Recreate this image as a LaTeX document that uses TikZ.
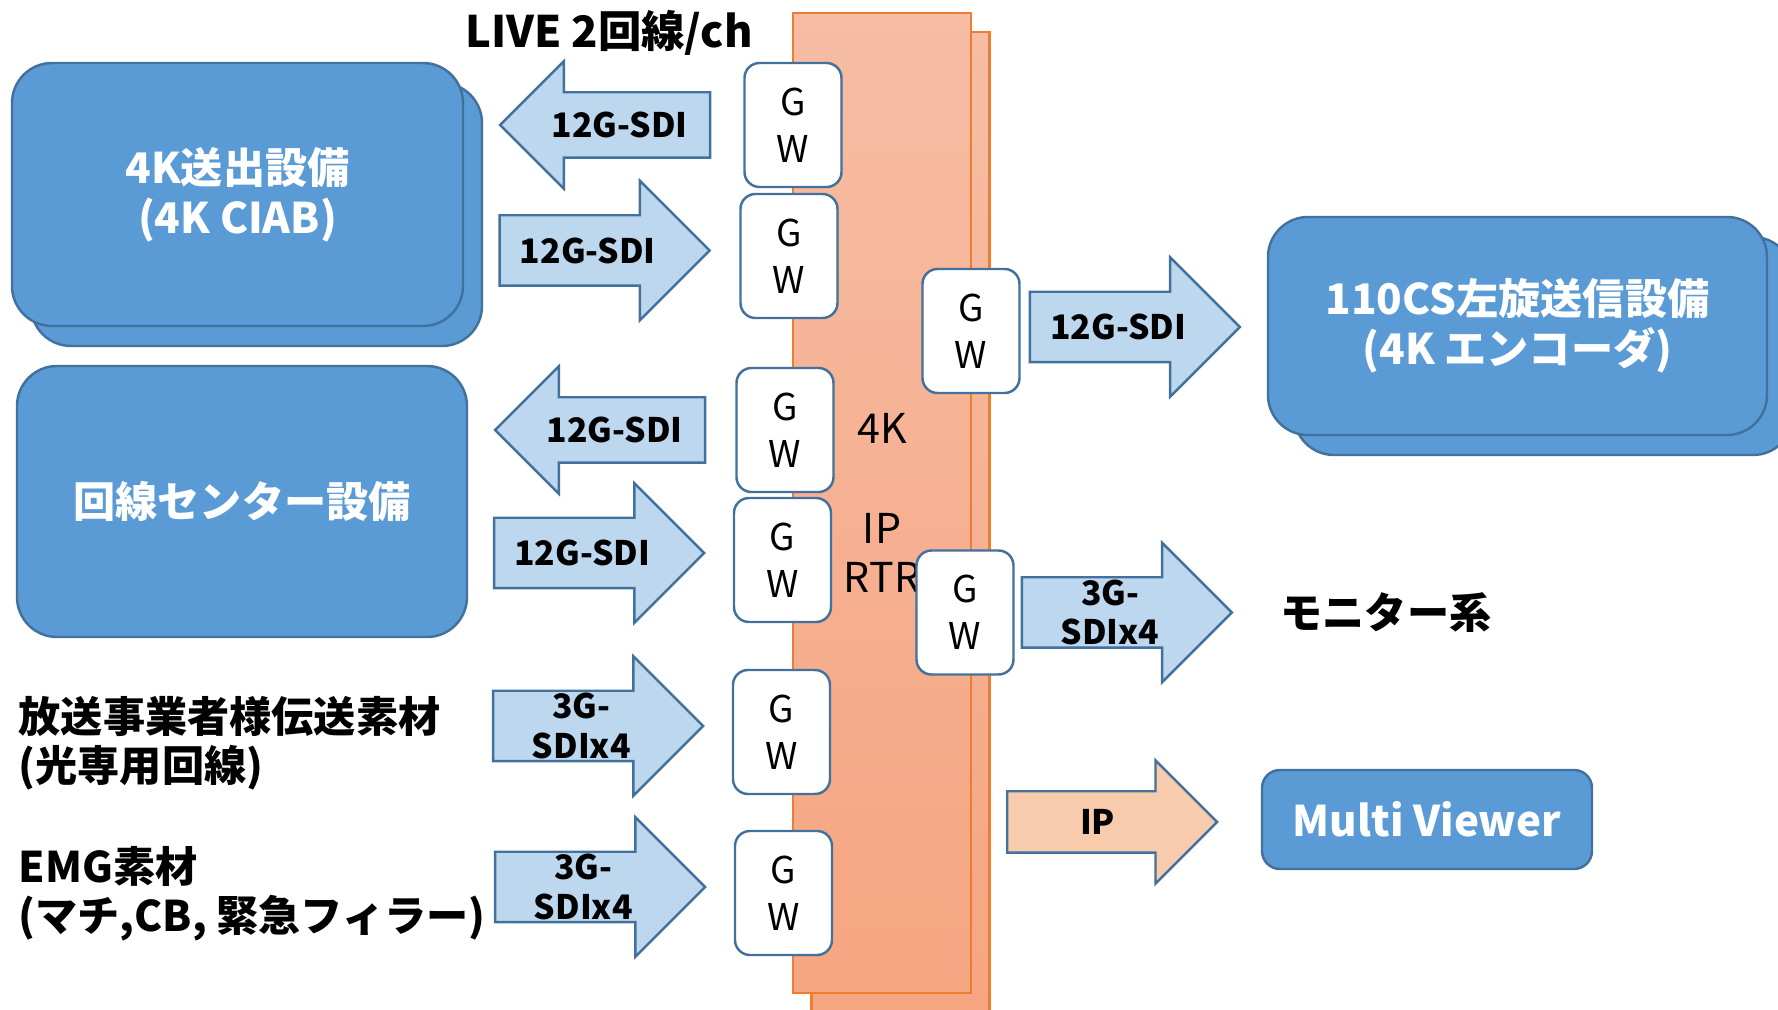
\documentclass[tikz,border=0pt]{standalone}
\usepackage{fontspec}
\setmainfont{Noto Sans CJK JP}
\usetikzlibrary{positioning,calc,shapes.arrows,shadows}
\definecolor{boxblue}{HTML}{5B9BD5}
\definecolor{lineblue}{HTML}{41719C}
\definecolor{arrowblue}{HTML}{BDD7EE}
\definecolor{ipfill}{HTML}{F8CBAD}
\definecolor{rtrtop}{HTML}{F6BDA4}
\definecolor{rtrbot}{HTML}{F6A581}
\definecolor{rtrline}{HTML}{ED7D31}
\tikzset{
  equip/.style={rectangle, rounded corners=4mm, draw=lineblue, line width=0.7pt,
    fill=boxblue, text=white, align=center, inner sep=0pt,
    font=\bfseries\fontsize{12}{14.2}\selectfont},
  gwbox/.style={rectangle, rounded corners=1.5mm, draw=lineblue, line width=0.7pt,
    fill=white, align=center, minimum width=9.7mm, minimum height=12.4mm, inner sep=0pt,
    font=\fontsize{10.5}{13.4}\selectfont},
  rtrbox/.style={rectangle, draw=rtrline, line width=0.6pt, top color=rtrtop, bottom color=rtrbot,
    minimum width=17.8mm, align=center, inner sep=0pt, font=\fontsize{11.7}{14.2}\selectfont},
  sdi/.style={single arrow, draw=lineblue, line width=0.7pt, fill=arrowblue,
    minimum height=21mm, minimum width=13.7mm, single arrow head extend=3.45mm,
    inner xsep=0pt, inner ysep=3.4mm},
  larrow/.style={sdi, shape border rotate=180, minimum width=12.5mm,
    single arrow head extend=3.1mm, inner ysep=3.15mm},
  sdilbl/.style={font=\bfseries\fontsize{9.6}{11.2}\selectfont, align=center, inner sep=0pt},
  plain/.style={font=\bfseries\fontsize{12}{14}\selectfont, align=left, inner sep=0pt},
}
\begin{document}
\begin{tikzpicture}[x=0.1mm, y=-0.1mm]
  \useasboundingbox (0,0) rectangle (1778,1010);
  \clip (0,0) rectangle (1778,1010);
  % IP router
  \node[rtrbox, minimum height=98.3mm] (rtrback) at (900.5,523.5) {};
  \node[rtrbox, minimum height=98mm] (rtr) at (882,503) {4K\\\mbox{}\\IP\\RTR};
  % gateways
  \node[gwbox] (gw1) at (793,125) {G\\W};
  \node[gwbox] (gw2) at (789,256) {G\\W};
  \node[gwbox] (gw3) at (785,430) {G\\W};
  \node[gwbox] (gw4) at (782.5,560) {G\\W};
  \node[gwbox] (gw5) at (781.5,732) {G\\W};
  \node[gwbox] (gw6) at (783.5,893) {G\\W};
  \node[gwbox] (gwa) at (971,331) {G\\W};
  \node[gwbox] (gwb) at (965,612.5) {G\\W};
  % equipment
  \node[equip, minimum width=45.1mm, minimum height=26.3mm,
    copy shadow={shadow xshift=1.9mm, shadow yshift=-2mm}] (ciab) at (237.5,194.5)
    {4K送出設備\\(4K CIAB)};
  \node[equip, minimum width=45mm, minimum height=27.1mm] (kaisen) at (242,501.5)
    {回線センター設備};
  \node[equip, minimum width=49.9mm, minimum height=21.8mm,
    copy shadow={shadow xshift=2.6mm, shadow yshift=-2mm}] (cs110) at (1517.5,326)
    {110CS左旋送信設備\\(4K エンコーダ)};
  \node[equip, rounded corners=1.8mm, minimum width=33mm, minimum height=9.9mm,
    font=\bfseries\fontsize{12}{15}\selectfont] (mview) at (1427,819.5) {Multi Viewer};
  % signal arrows
  \node[larrow, anchor=tail] (s1) at ([xshift=-3.2mm]gw1.west) {};
  \node[sdi, anchor=tip] (s2) at ([xshift=-2.8mm, yshift=0.55mm]gw2.west) {};
  \node[larrow, anchor=tail] (s3) at ([xshift=-2.9mm]gw3.west) {};
  \node[sdi, anchor=tip] (s4) at ([xshift=-2.7mm, yshift=0.7mm]gw4.west) {};
  \node[sdi, anchor=tip] (s5) at ([xshift=-2.7mm, yshift=0.6mm]gw5.west) {};
  \node[sdi, anchor=tip] (s6) at ([xshift=-2.7mm, yshift=0.6mm]gw6.west) {};
  \node[sdi, anchor=tail] (s7) at ([xshift=0.8mm, yshift=0.4mm]gwa.east) {};
  \node[sdi, anchor=tail] (s8) at ([xshift=0.6mm]gwb.east) {};
  \node[sdi, fill=ipfill, anchor=tail, minimum width=12.1mm, single arrow head extend=3.1mm,
    inner ysep=2.95mm] (sip) at (1006,822) {};
  \node[sdilbl] at ($(s1.tail)!.43!(s1.tip)$) {12G-SDI};
  \node[sdilbl] at ($(s2.tail)!.42!(s2.tip)$) {12G-SDI};
  \node[sdilbl] at ($(s3.tail)!.43!(s3.tip)$) {12G-SDI};
  \node[sdilbl] at ($(s4.tail)!.42!(s4.tip)$) {12G-SDI};
  \node[sdilbl] at ($(s5.tail)!.42!(s5.tip)$) {3G-\\SDIx4};
  \node[sdilbl] at ($(s6.tail)!.42!(s6.tip)$) {3G-\\SDIx4};
  \node[sdilbl] at ($(s7.tail)!.42!(s7.tip)$) {12G-SDI};
  \node[sdilbl] at ($(s8.tail)!.42!(s8.tip)$) {3G-\\SDIx4};
  \node[sdilbl] at ($(sip.tail)!.43!(sip.tip)$) {IP};
  % plain labels
  \node[plain, font=\bfseries\fontsize{12.35}{15}\selectfont] (live) at (609,33) {LIVE 2回線/ch};
  \node[plain, anchor=west] (hoso) at (18,743) {放送事業者様伝送素材\\(光専用回線)};
  \node[plain, anchor=west] (emg) at (18,894) {EMG素材\\(マチ,CB, 緊急フィラー)};
  \node[plain] (mon) at (1386,613) {モニター系};
\end{tikzpicture}
\end{document}
